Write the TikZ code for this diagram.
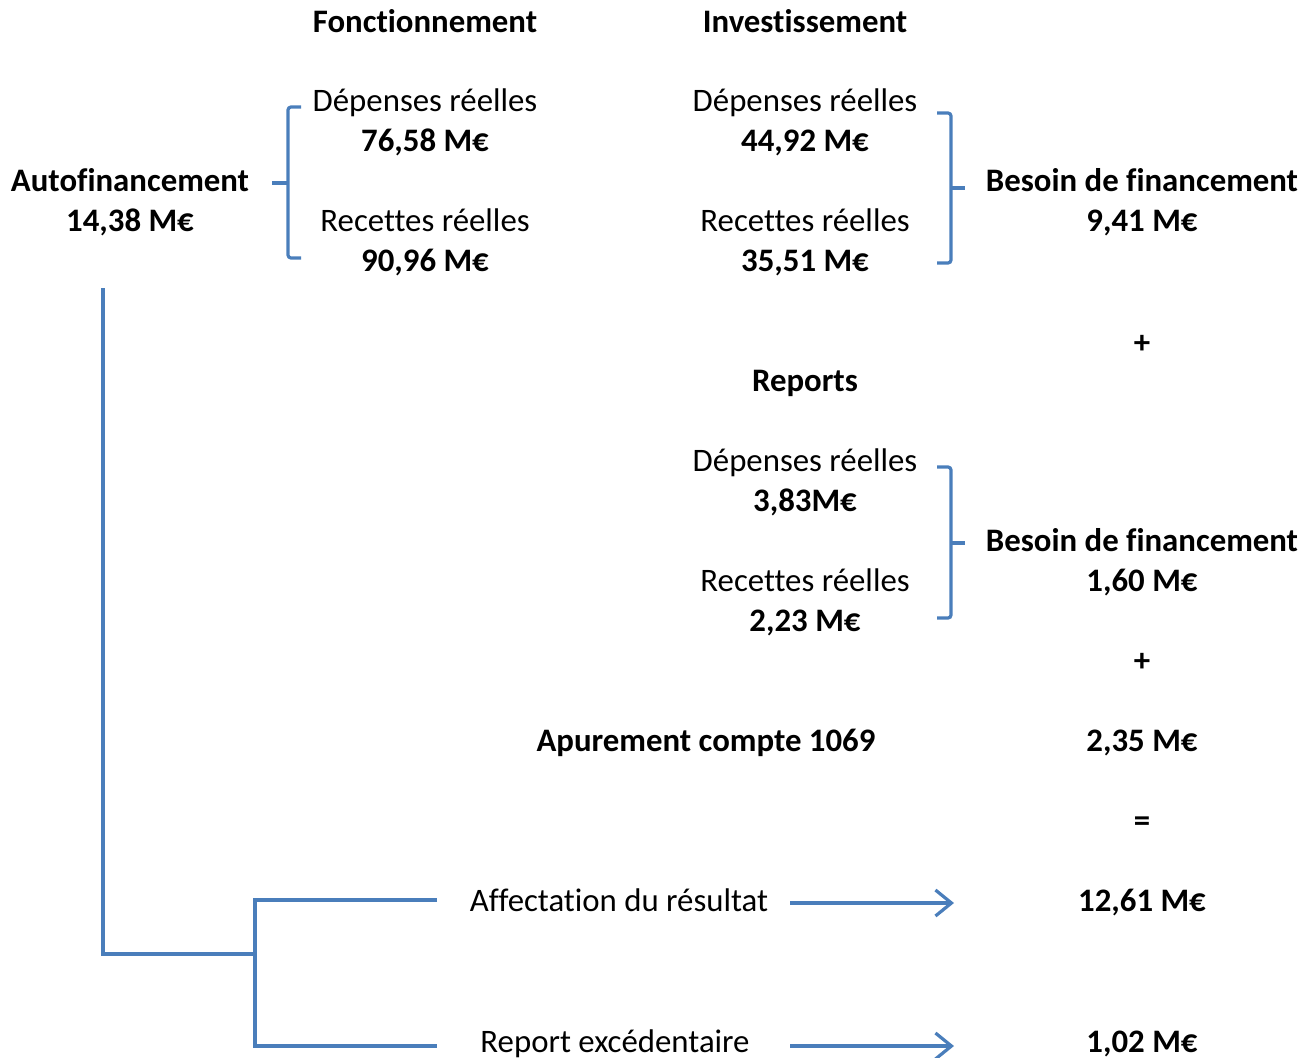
\documentclass[tikz,border=0pt]{standalone}
\usepackage{fontspec}
\setmainfont[Ligatures=NoCommon]{Carlito}
\usetikzlibrary{arrows.meta}
\definecolor{lineblue}{HTML}{4A7EBB}
\begin{document}
\begin{tikzpicture}[x=1pt,y=-1pt,
 reg/.style={inner sep=0pt, anchor=base, font=\fontsize{32.8}{39}\selectfont},
 bld/.style={inner sep=0pt, anchor=base, font=\fontsize{32.8}{39}\selectfont\bfseries},
 conn/.style={draw=lineblue, line width=3.2pt},
 brk/.style={conn, rounded corners=3pt},
 arr/.style={conn, -{Straight Barb[length=16pt,width=26pt]}}]
\useasboundingbox (0,0) rectangle (1302,1058);
% headers
\node[bld] (fonc) at (425,32.5) {Fonctionnement};
\node[bld] (inv) at (805,32.5) {Investissement};
% fonctionnement
\node[reg] (fdep) at (425,111.5) {Dépenses réelles};
\node[bld] (fdepv) at (425,151.5) {76,58 M€};
\node[reg] (frec) at (425,231.5) {Recettes réelles};
\node[bld] (frecv) at (425,271.5) {90,96 M€};
% autofinancement
\node[bld] (auto) at (130,191.5) {Autofinancement};
\node[bld] (autov) at (130,231.5) {14,38 M€};
% investissement
\node[reg] (idep) at (805,111.5) {Dépenses réelles};
\node[bld] (idepv) at (805,151.5) {44,92 M€};
\node[reg] (irec) at (805,231.5) {Recettes réelles};
\node[bld] (irecv) at (805,271.5) {35,51 M€};
\node[bld] (bes1) at (1142,191.5) {Besoin de financement};
\node[bld] (bes1v) at (1142,231.5) {9,41 M€};
\node[bld] (plus1) at (1142,353.5) {+};
% reports
\node[bld] (rep) at (805,391.5) {Reports};
\node[reg] (rdep) at (805,471.5) {Dépenses réelles};
\node[bld] (rdepv) at (805,511.5) {3,83M€};
\node[reg] (rrec) at (805,591.5) {Recettes réelles};
\node[bld] (rrecv) at (805,631.5) {2,23 M€};
\node[bld] (bes2) at (1142,551.5) {Besoin de financement};
\node[bld] (bes2v) at (1142,591.5) {1,60 M€};
\node[bld] (plus2) at (1142,671.5) {+};
% apurement
\node[bld] (apu) at (706,751.5) {Apurement compte 1069};
\node[bld] (apuv) at (1142,751.5) {2,35 M€};
\node[bld] (eq) at (1142,831.5) {=};
% results
\node[reg] (aff) at (619,911.5) {Affectation du résultat};
\node[bld] (affv) at (1142,911.5) {12,61 M€};
\node[reg] (rex) at (615,1052.5) {Report excédentaire};
\node[bld] (rexv) at (1142,1052.5) {1,02 M€};
% brackets
\draw[brk] (301,107) -- (288,107) -- (288,258) -- (301,258);
\draw[conn] (272,183) -- (288,183);
\draw[brk] (937,113) -- (951,113) -- (951,263) -- (937,263);
\draw[conn] (951,188) -- (965,188);
\draw[brk] (937,467) -- (951,467) -- (951,618) -- (937,618);
\draw[conn] (951,543) -- (965,543);
% tree
\coordinate (t0) at (103,288);
\coordinate (t1) at (103,954);
\coordinate (t2) at (255,954);
\coordinate (ta) at (255,900);
\coordinate (tb) at (255,1046);
\coordinate (ea) at (437,900);
\coordinate (eb) at (437,1046);
\draw[conn] (t0) -- (t1) -- (t2);
\draw[conn] (ea) -- (ta) -- (tb) -- (eb);
% arrows
\coordinate (a1s) at (790,903);
\coordinate (a1e) at (954,903);
\coordinate (a2s) at (790,1046);
\coordinate (a2e) at (954,1046);
\draw[arr] (a1s) -- (a1e);
\draw[arr] (a2s) -- (a2e);
\end{tikzpicture}
\end{document}
